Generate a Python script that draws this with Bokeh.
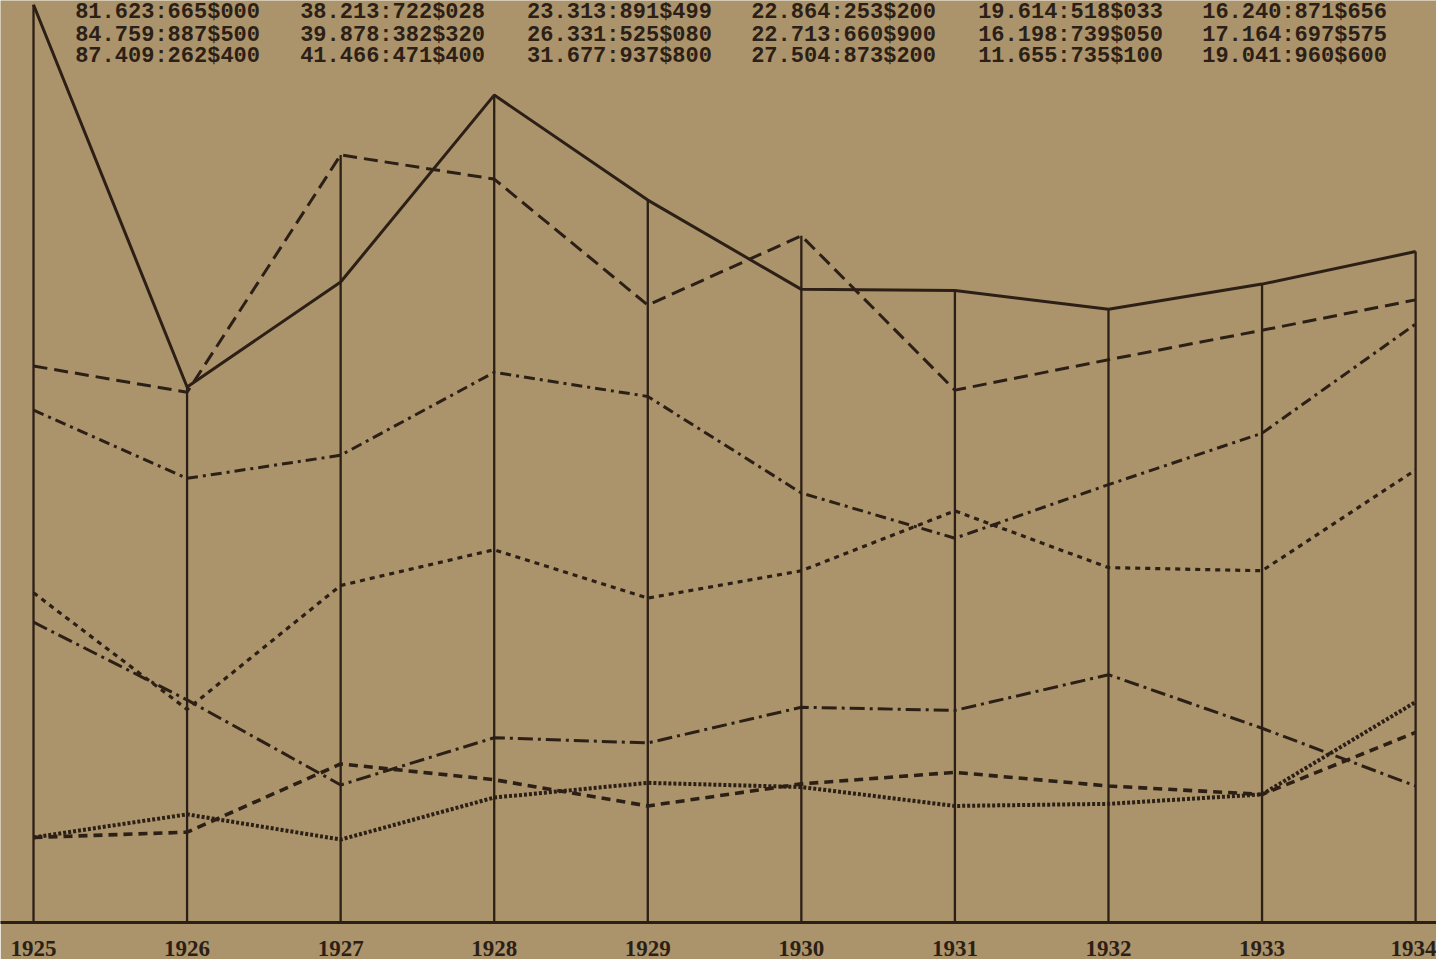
from bokeh.plotting import figure
from bokeh.models import FixedTicker, Range1d, ColumnDataSource
from bokeh.core.properties import value
from bokeh.embed import file_html
from bokeh.resources import INLINE

# ---- data -------------------------------------------------------------
years = [1925, 1926, 1927, 1928, 1929, 1930, 1931, 1932, 1933, 1934]
year_labels = ["1925", "1926", "1927", "1928", "1929", "1930", "1931", "1932", "1933", "1934"]

s_solid      = [87.4, 51.0, 61.0, 78.8, 68.8, 60.3, 60.2, 58.4, 60.8, 63.9]
s_longdash   = [53.0, 50.5, 73.1, 70.8, 58.8, 65.4, 50.7, 53.6, 56.4, 59.3]
s_dashdot    = [48.8, 42.3, 44.5, 52.4, 50.1, 40.9, 36.6, 41.7, 46.6, 57.0]
s_shortdash  = [31.4, 20.3, 32.1, 35.5, 30.9, 33.5, 39.2, 33.8, 33.5, 43.1]
s_dashdot2   = [28.6, 21.2, 13.1, 17.6, 17.1, 20.5, 20.2, 23.6, 18.5, 13.0]
s_dotted     = [8.1, 10.3, 7.9, 11.9, 13.3, 12.9, 11.1, 11.3, 12.2, 21.0]
s_plusdash   = [8.1, 8.6, 15.1, 13.6, 11.1, 13.2, 14.3, 13.0, 12.2, 18.1]

row1 = ["81.623:665$000", "38.213:722$028", "23.313:891$499", "22.864:253$200",
        "19.614:518$033", "16.240:871$656"]
row2 = ["84.759:887$500", "39.878:382$320", "26.331:525$080", "22.713:660$900",
        "16.198:739$050", "17.164:697$575"]
row3 = ["87.409:262$400", "41.466:471$400", "31.677:937$800", "27.504:873$200",
        "11.655:735$100", "19.041:960$600"]

# ---- styling -------------------------------------------------------------
INK = "#2c1f16"
BG = "#ab936b"

W, H = 1436, 959
p = figure(width=W, height=H, output_backend="svg", toolbar_location=None,
           x_range=Range1d(1924.785, 1934.136), y_range=Range1d(0, 87.81),
           y_axis_location=None, min_border_left=0, min_border_right=0,
           min_border_top=0, min_border_bottom=37)
p.background_fill_color = BG
p.border_fill_color = BG
p.outline_line_color = None
p.grid.visible = False

p.xaxis.ticker = FixedTicker(ticks=years)
p.xaxis.major_label_overrides = {y: l for y, l in zip(years, year_labels)}
p.xaxis.major_tick_line_color = None
p.xaxis.minor_tick_line_color = None
p.xaxis.axis_line_color = INK
p.xaxis.axis_line_width = 3
p.xaxis.major_label_standoff = 12
p.xaxis.major_label_text_font = "Liberation Serif"
p.xaxis.major_label_text_font_size = "23px"
p.xaxis.major_label_text_font_style = "bold"
p.xaxis.major_label_text_line_height = 0.8
p.xaxis.major_label_text_color = INK

# vertical year lines from baseline up to the highest series value
series = [s_solid, s_longdash, s_dashdot, s_shortdash, s_dashdot2, s_dotted, s_plusdash]
tops = [max(vals) for vals in zip(*series)]
p.segment(x0=years, y0=[0] * len(years), x1=years, y1=tops, line_color=INK, line_width=2.3)

styles = [
    (s_solid, "solid", 3.0),
    (s_longdash, "14 7", 3.0),
    (s_dashdot, "11 5 3 5", 3.0),
    (s_shortdash, "5 5", 3.2),
    (s_dashdot2, "15 5 3 5", 3.0),
    (s_dotted, "3 2", 4.0),
    (s_plusdash, "9 6", 3.6),
]
for vals, dash, w in styles:
    p.line(years, vals, line_color=INK, line_width=w, line_dash=dash)

# header figures
col_x = [1925.873, 1927.338, 1928.816, 1930.275, 1931.753, 1933.212]
for txt, yy in ((row1, 86.62), (row2, 84.52), (row3, 82.43)):
    src = ColumnDataSource(dict(x=col_x, y=[yy] * len(col_x), t=txt))
    p.text(x="x", y="y", text="t", source=src, text_align="center",
           text_baseline="middle", text_font=value("Liberation Mono"),
           text_font_size="22px", text_font_style="bold", text_color=INK)

open("out.html", "w").write(file_html(p, INLINE))
